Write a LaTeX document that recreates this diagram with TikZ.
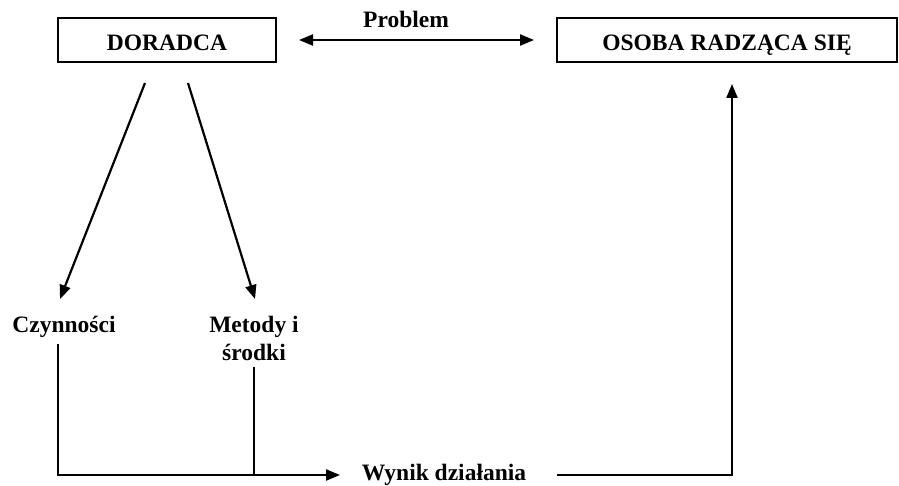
\documentclass[tikz,border=0pt]{standalone}
\usepackage{fontspec}
\setmainfont{Liberation Serif}
\usetikzlibrary{arrows.meta}
\begin{document}
\begin{tikzpicture}[x=1pt,y=-1pt,
  lbl/.style={font=\fontsize{23.5}{28}\selectfont\bfseries, inner sep=0pt},
  boxnode/.style={lbl, draw, line width=2pt, minimum height=44pt, text height=22pt, text depth=0pt},
  conn/.style={line width=2.2pt},
  arr/.style={conn, -{Triangle[length=14pt,width=11pt]}},
  darr/.style={conn, {Triangle[length=14pt,width=11pt]}-{Triangle[length=14pt,width=11pt]}}
]
\useasboundingbox (0,0) rectangle (899,486);
\node[boxnode, minimum width=218pt] (dor) at (167,40) {DORADCA};
\node[boxnode, minimum width=340pt] (oso) at (727,40) {OSOBA RADZĄCA SIĘ};
\node[lbl, anchor=base] (prob) at (406,28) {Problem};
\node[lbl, anchor=base] (czy) at (64,332) {Czynności};
\node[lbl, anchor=base, align=center] (met) at (254,360) {Metody i\\środki};
\node[lbl, anchor=base] (wyn) at (444,480) {Wynik działania};

\coordinate (d1) at (145,83);
\coordinate (d2) at (188,83);
\coordinate (t1) at (60,299);
\coordinate (t2) at (255,299);
\coordinate (c1) at (58,344);
\coordinate (m1) at (254,367);
\coordinate (bl) at (58,475);
\coordinate (bm) at (254,475);
\coordinate (ba) at (340,475);
\coordinate (r1) at (557,475);
\coordinate (r2) at (732,475);
\coordinate (rt) at (732,84);

\draw[darr, shorten <=22pt, shorten >=22pt] (dor.east) -- (oso.west);
\draw[arr] (d1) -- (t1);
\draw[arr] (d2) -- (t2);
\draw[arr] (c1) -- (bl) -- (ba);
\draw[conn] (m1) -- (bm);
\draw[arr] (r1) -- (r2) -- (rt);
\end{tikzpicture}
\end{document}
